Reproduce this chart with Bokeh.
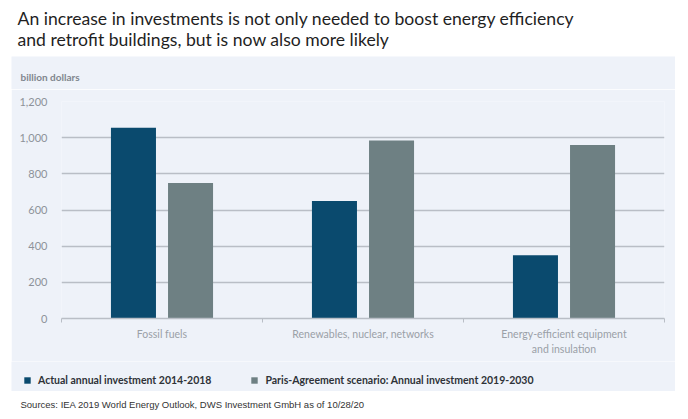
from bokeh.plotting import figure
from bokeh.models import (FactorRange, Range1d, LinearAxis, CategoricalAxis, FixedTicker,
                          Label, Legend, LegendItem, ColumnDataSource, NumeralTickFormatter)
from bokeh.layouts import column
from bokeh.transform import dodge
from bokeh.embed import file_html
from bokeh.resources import INLINE

# ---- data ----
title_lines = ["An increase in investments is not only needed to boost energy efficiency",
               "and retrofit buildings, but is now also more likely"]
categories = ["Fossil fuels", "Renewables, nuclear, networks",
              "Energy-efficient equipment\nand insulation"]
actual_2014_2018 = [1055, 650, 350]
paris_2019_2030 = [750, 985, 960]
series_names = ["Actual annual investment 2014-2018",
                "Paris-Agreement scenario: Annual investment 2019-2030"]
y_ticks = [0, 200, 400, 600, 800, 1000, 1200]
unit_label = "billion dollars"
source_text = "Sources: IEA 2019 World Energy Outlook, DWS Investment GmbH as of 10/28/20"

# ---- styles ----
PANEL = "#eef2f9"
GRID = "#b9bec6"
DARK = "#0a4a6e"
GREY = "#6e8083"
TICK_TXT = "#8d929a"
FONT = "Lato"


def strip(width, height, fill):
    f = figure(width=width, height=height, output_backend="svg", toolbar_location=None,
               x_axis_location=None, y_axis_location=None, min_border=0,
               min_border_left=0, min_border_right=0, min_border_top=0, min_border_bottom=0,
               outline_line_color=None, x_range=Range1d(0, width), y_range=Range1d(0, height),
               background_fill_color=fill, border_fill_color=fill)
    f.grid.visible = False
    f.frame_align = False
    return f


# ---- title strip (white) ----
t = strip(672, 56, "white")
for line, yb in zip(title_lines, [38, 17]):
    t.add_layout(Label(x=10, y=yb, text=line, text_font=FONT, text_font_size="17.6px",
                       text_color="#1f1f1f", text_baseline="alphabetic"))

# ---- unit strip (panel) ----
u = strip(664, 33, PANEL)
u.margin = (0, 4, 0, 4)
u.add_layout(Label(x=9, y=13, text=unit_label, text_font=FONT, text_font_size="10px",
                   text_font_style="bold", text_color="#80868e", text_baseline="middle"))

# ---- main chart ----
p = figure(width=664, height=272, output_backend="svg", toolbar_location=None,
           x_range=FactorRange(*categories), y_range=Range1d(0, 1200),
           x_axis_location=None, min_border_left=50, min_border_right=11,
           min_border_top=12, min_border_bottom=43,
           background_fill_color=PANEL, border_fill_color=PANEL, outline_line_color=None)
p.margin = (0, 4, 0, 4)
p.frame_align = False

src = ColumnDataSource(dict(cat=categories, actual=actual_2014_2018, paris=paris_2019_2030))
r1 = p.vbar(x=dodge("cat", -0.142, range=p.x_range), top="actual", width=0.224,
            source=src, fill_color=DARK, line_color=None)
r2 = p.vbar(x=dodge("cat", 0.142, range=p.x_range), top="paris", width=0.224,
            source=src, fill_color=GREY, line_color=None)

p.xgrid.grid_line_color = None
p.ygrid.ticker = FixedTicker(ticks=y_ticks)
p.ygrid.grid_line_color = GRID
p.ygrid.grid_line_width = 1.5

ya = p.yaxis[0]
ya.ticker = FixedTicker(ticks=y_ticks)
ya.formatter = NumeralTickFormatter(format="0,0")
ya.axis_line_color = None
ya.major_tick_line_color = None
ya.minor_tick_line_color = None
ya.major_label_standoff = 8
ya.major_label_text_font = FONT
ya.major_label_text_font_size = "11px"
ya.major_label_text_color = TICK_TXT

# separator ticks at the category boundaries (synthetic coordinates 0..3)
bounds = list(range(len(categories) + 1))
sep = LinearAxis(ticker=FixedTicker(ticks=bounds),
                 major_label_overrides={b: "" for b in bounds},
                 axis_line_color=GRID, axis_line_width=1.5,
                 major_tick_line_color=GRID, major_tick_line_width=1,
                 major_tick_out=4, major_tick_in=0, minor_tick_line_color=None,
                 major_label_text_font_size="0px", major_label_standoff=0)
p.add_layout(sep, "below")

cax = CategoricalAxis(axis_line_color=None, major_tick_line_color=None,
                      minor_tick_line_color=None, major_label_standoff=-1,
                      major_label_text_font=FONT, major_label_text_font_size="10.5px",
                      major_label_text_color="#9aa0a7", major_label_text_line_height=1.25)
p.add_layout(cax, "below")

# ---- legend strip (panel) ----
lg = strip(664, 30, PANEL)
lg.margin = (0, 4, 0, 4)
nan = float("nan")
k1 = lg.vbar(x=[nan], top=[nan], width=1, fill_color=DARK, line_color=None)
k2 = lg.vbar(x=[nan], top=[nan], width=1, fill_color=GREY, line_color=None)
legend = Legend(items=[LegendItem(label=series_names[0], renderers=[k1]),
                       LegendItem(label=series_names[1], renderers=[k2])],
                orientation="horizontal", location=(12, 5),
                glyph_width=8, glyph_height=8, label_standoff=7, spacing=39,
                padding=0, margin=0, border_line_color=None, background_fill_alpha=0,
                label_text_font=FONT, label_text_font_size="10.5px",
                label_text_font_style="bold", label_text_color="#2e3238", label_height=8)
lg.add_layout(legend, "center")

# ---- sources strip (white) ----
s = strip(672, 19, "white")
s.add_layout(Label(x=13, y=6, text=source_text, text_font="Liberation Sans",
                   text_font_size="9.5px", text_color="#333333", text_baseline="middle"))

layout = column(t, u, p, lg, s, spacing=0, margin=(0, 0, 0, 7))
open("out.html", "w").write(file_html(layout, INLINE))
